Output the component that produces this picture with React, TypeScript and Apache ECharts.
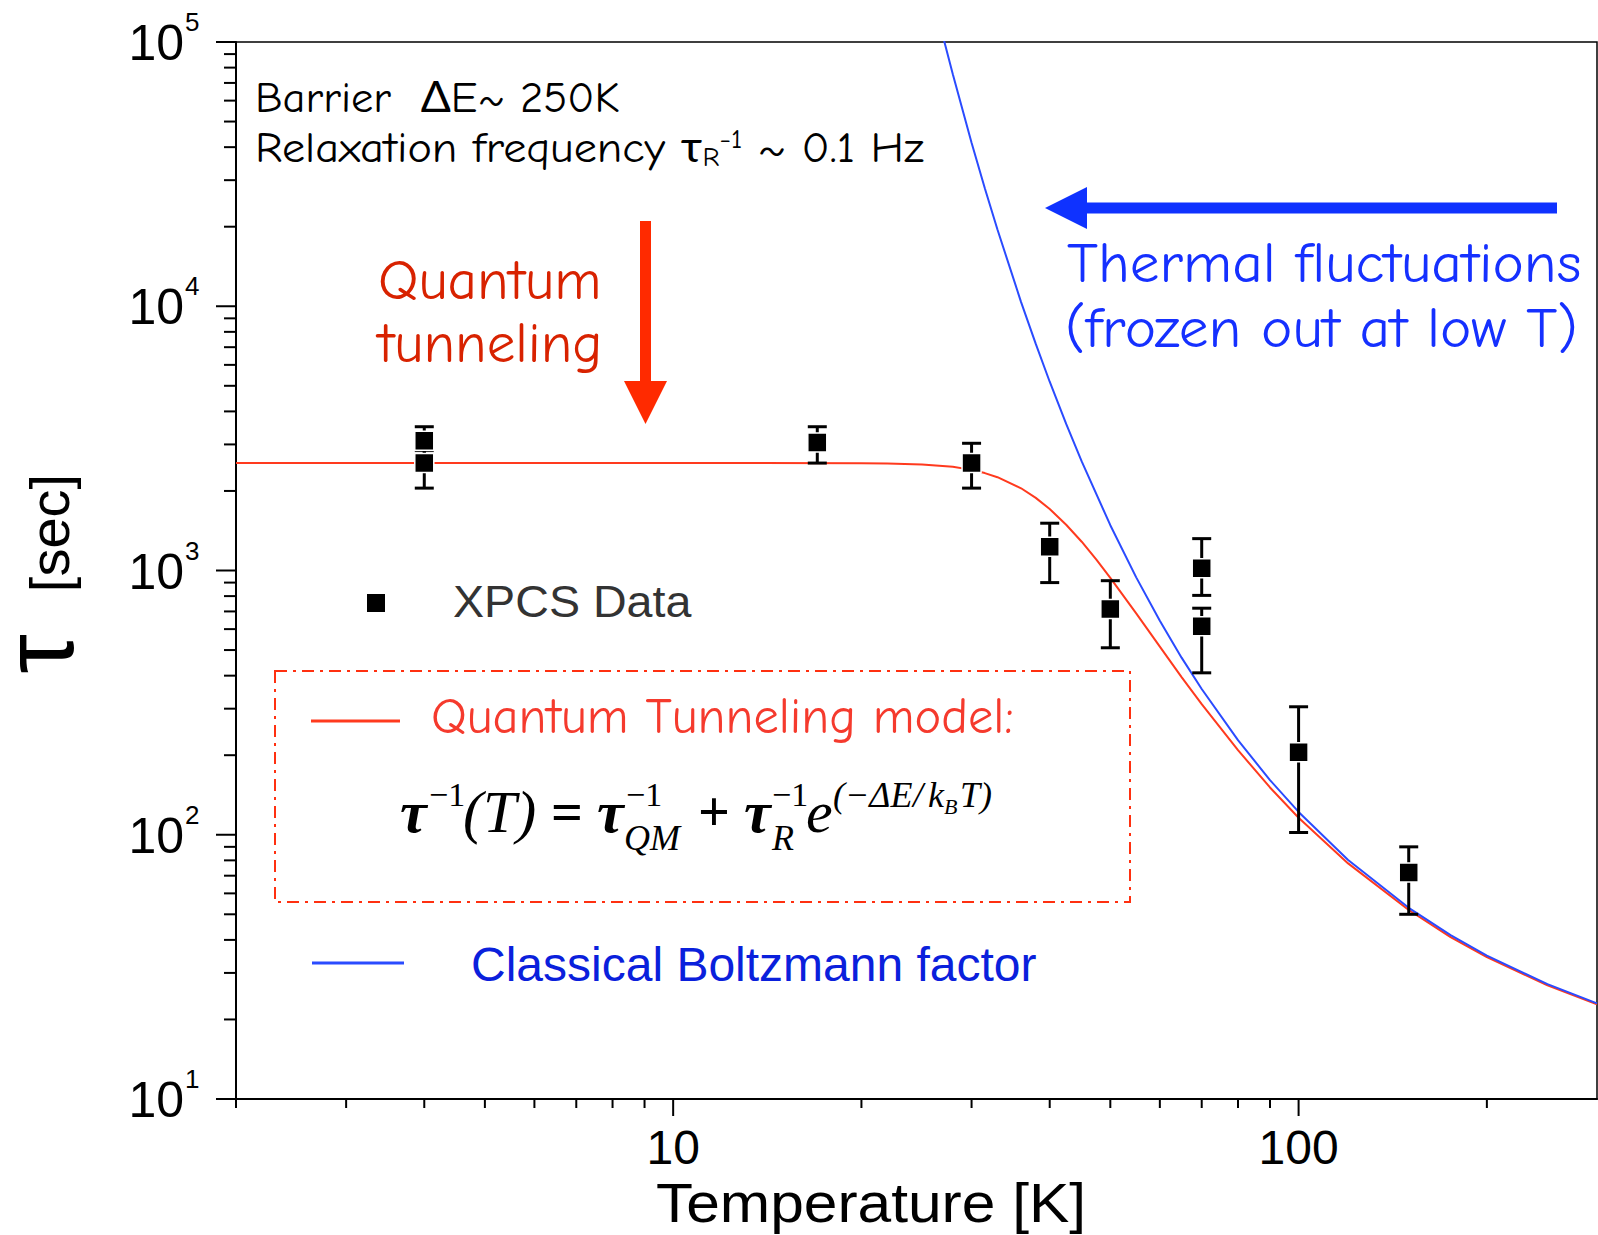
import React, { useEffect, useRef } from 'react';
import * as echarts from 'echarts';

// XPCS relaxation times (s) vs temperature (K), with error-bar limits
const temperatureK = [4, 4, 17, 30, 40, 50, 70, 70, 100, 150];
const tauSec = [3100, 2550, 3050, 2550, 1230, 715, 1020, 615, 205, 72];
const tauLow = [2750, 2050, 2550, 2050, 900, 510, 805, 410, 102, 50];
const tauHigh = [3500, 2850, 3500, 3030, 1510, 915, 1320, 720, 305, 90];

// Quantum tunneling model curve
const tunnelingT = [2, 10, 20, 22, 25, 28, 30, 31.5, 33, 36, 38, 40, 42.5, 45, 47.5, 50, 55, 60, 65, 70, 80, 90, 100, 120, 150, 175, 200, 250, 300];
const tunnelingTau = [2550, 2550, 2548, 2542, 2521, 2468, 2403, 2337, 2255, 2047, 1883, 1709, 1490, 1285, 1099, 938, 688, 515, 395, 312, 209, 151, 116, 77.9, 51.9, 41.0, 34.4, 26.9, 22.8];

// Classical Boltzmann factor curve
const boltzmannT = [27, 28, 30, 31.5, 33, 36, 38, 40, 42.5, 45, 50, 55, 60, 65, 70, 80, 90, 100, 120, 150, 175, 200, 250, 300];
const boltzmannTau = [105090, 75480, 41600, 27970, 19510, 10370, 7200, 5180, 3588, 2587, 1484, 942, 645, 468, 356, 228, 161, 122, 80.3, 52.9, 41.7, 34.9, 27.2, 23.0];

// Axes
const X_MIN = 2;
const X_MAX = 300;
const Y_MIN = 10;
const Y_MAX = 100000;
const xTickLabels = ['10', '100'];
const xMajorTicks = [10, 100];
const xMinorTicks = [2, 3, 4, 5, 6, 7, 8, 9, 20, 30, 40, 50, 60, 70, 80, 90, 200];
const yDecades = [10, 100, 1000, 10000, 100000];
const yExponents = ['1', '2', '3', '4', '5'];
const yMinorMultipliers = [2, 3, 4, 5, 6, 7, 8, 9];

const COMIC = '"Comic Sans MS", "Comic Neue", Lato, sans-serif';
const SANS = '"Liberation Sans", Arial, sans-serif';
const SERIF = '"Liberation Serif", "Times New Roman", serif';

type TextOpts = {
  size: number;
  family?: string;
  color?: string;
  align?: string;
  vAlign?: string;
  style?: string;
  weight?: string;
  scaleX?: number;
  rotation?: number;
};

function label(text: string, x: number, y: number, o: TextOpts) {
  const align = o.align || 'left';
  const vAlign = o.vAlign || 'middle';
  return {
    type: 'text',
    x,
    y,
    z: 20,
    scaleX: o.scaleX || 1,
    rotation: o.rotation || 0,
    style: {
      text,
      fontSize: o.size,
      fontFamily: o.family || COMIC,
      fontStyle: o.style || 'normal',
      fontWeight: o.weight || 'normal',
      fill: o.color || '#000',
      align,
      verticalAlign: vAlign,
      textAlign: align,
      textVerticalAlign: vAlign,
    },
  };
}

function buildOption() {
  const tickData: number[][] = [
    ...xMinorTicks.map((v) => [v, Y_MIN, 0, 9]),
    ...xMajorTicks.map((v) => [v, Y_MIN, 0, 17]),
    ...yDecades.slice(0, -1).flatMap((d) => yMinorMultipliers.map((m) => [X_MIN, d * m, 1, 12])),
    ...yDecades.map((v) => [X_MIN, v, 1, 20]),
  ];

  const points = temperatureK.map((t, i) => [t, tauSec[i]]);
  const bars = temperatureK.map((t, i) => [t, tauLow[i], tauHigh[i]]);

  const formulaY = 812;
  const supY = 794;
  const subY = 838;

  const graphic: any[] = [
    // header text
    label('Barrier\u00a0 ΔE~ 250K', 255, 98, { size: 42, scaleX: 1.06 }),
    {
      type: 'text',
      x: 255,
      y: 148,
      z: 20,
      scaleX: 1.1,
      style: {
        text: '{m|Relaxation frequency τ}{sb|R}{sp|-1}{m| ~ 0.1 Hz}',
        fontFamily: COMIC,
        fill: '#000',
        align: 'left',
        verticalAlign: 'middle',
        textAlign: 'left',
        textVerticalAlign: 'middle',
        rich: {
          m: { fontSize: 42, lineHeight: 44, fontFamily: COMIC, fill: '#000' },
          sb: { fontSize: 26, lineHeight: 24, verticalAlign: 'bottom', fontFamily: COMIC, fill: '#000' },
          sp: { fontSize: 26, lineHeight: 24, verticalAlign: 'top', fontFamily: COMIC, fill: '#000' },
        },
      },
    },
    // quantum tunneling annotation
    label('Quantum', 378, 281, { size: 56, color: '#d82200', scaleX: 1.02 }),
    label('tunneling', 378, 344, { size: 56, color: '#d82200', scaleX: 1.02 }),
    { type: 'rect', z: 20, shape: { x: 640, y: 221, width: 11, height: 162 }, style: { fill: '#ff2a00' } },
    { type: 'polygon', z: 20, shape: { points: [[624, 381], [667, 381], [645.5, 424]] }, style: { fill: '#ff2a00' } },
    // thermal fluctuations annotation
    { type: 'rect', z: 20, shape: { x: 1085, y: 202.5, width: 472, height: 11 }, style: { fill: '#0f32ff' } },
    { type: 'polygon', z: 20, shape: { points: [[1045, 208], [1087, 187], [1087, 229]] }, style: { fill: '#0f32ff' } },
    label('Thermal fluctuations', 1067, 264, { size: 56, color: '#1530ff', scaleX: 1.06 }),
    label('(frozen out at low T)', 1065, 329, { size: 56, color: '#1530ff', scaleX: 1.06 }),
    // data legend
    { type: 'rect', z: 20, shape: { x: 367, y: 594, width: 18, height: 18 }, style: { fill: '#000' } },
    label('XPCS Data', 453, 602, { size: 44, family: SANS, color: '#333', scaleX: 1.06 }),
    // model legend box
    {
      type: 'rect',
      z: 20,
      shape: { x: 275, y: 671, width: 855, height: 231 },
      style: { fill: 'none', stroke: '#ff3010', lineWidth: 2, lineDash: [12, 6, 3, 6] },
    },
    { type: 'line', z: 20, shape: { x1: 311, y1: 721, x2: 400, y2: 721 }, style: { stroke: '#ff3a1e', lineWidth: 3 } },
    label('Quantum Tunneling model:', 431, 717, { size: 50, color: '#f53a2d', scaleX: 1.01 }),
    // formula
    label('τ', 400, formulaY, { size: 60, family: SERIF, style: 'italic', weight: 'bold' }),
    label('−1', 429, supY, { size: 34, family: SERIF }),
    label('(T)', 463, formulaY, { size: 60, family: SERIF, style: 'italic' }),
    label('=', 551, formulaY, { size: 56, family: SERIF, weight: 'bold' }),
    label('τ', 597, formulaY, { size: 60, family: SERIF, style: 'italic', weight: 'bold' }),
    label('−1', 626, supY, { size: 34, family: SERIF }),
    label('QM', 624, subY, { size: 36, family: SERIF, style: 'italic' }),
    label('+', 698, formulaY, { size: 56, family: SERIF, weight: 'bold' }),
    label('τ', 744, formulaY, { size: 60, family: SERIF, style: 'italic', weight: 'bold' }),
    label('−1', 772, supY, { size: 34, family: SERIF }),
    label('R', 772, subY, { size: 36, family: SERIF, style: 'italic' }),
    label('e', 806, formulaY, { size: 60, family: SERIF, style: 'italic' }),
    label('(−ΔE', 833, 795, { size: 36, family: SERIF, style: 'italic' }),
    label('/', 913, 795, { size: 36, family: SERIF, style: 'italic' }),
    label('k', 928, 795, { size: 36, family: SERIF, style: 'italic' }),
    label('B', 944, 806, { size: 22, family: SERIF, style: 'italic' }),
    label('T)', 960, 795, { size: 36, family: SERIF, style: 'italic' }),
    // classical legend
    { type: 'line', z: 20, shape: { x1: 312, y1: 963, x2: 404, y2: 963 }, style: { stroke: '#2a4bff', lineWidth: 3 } },
    label('Classical Boltzmann factor', 471, 964, { size: 48, family: SANS, color: '#0a20dc' }),
    // axis titles
    label('Temperature [K]', 871, 1202, { size: 56, family: SANS, align: 'center', scaleX: 1.08 }),
    label('[sec]', 49, 533, { size: 56, family: SANS, align: 'center', rotation: Math.PI / 2 }),
    label('τ', 38, 654, { size: 100, family: SANS, align: 'center', rotation: Math.PI / 2 }),
  ];

  return {
    animation: false,
    backgroundColor: '#fff',
    grid: {
      left: 236,
      top: 42,
      right: 1,
      bottom: 136,
      show: true,
      borderColor: '#000',
      borderWidth: 1.5,
      backgroundColor: 'transparent',
      containLabel: false,
      outerBoundsMode: 'none',
    },
    xAxis: {
      type: 'log',
      logBase: 10,
      min: X_MIN,
      max: X_MAX,
      axisLine: { show: true, lineStyle: { color: '#000', width: 2 } },
      axisTick: { show: false },
      minorTick: { show: false },
      splitLine: { show: false },
      axisLabel: {
        margin: 24,
        fontSize: 48,
        fontFamily: SANS,
        color: '#000',
        formatter: (v: number) => xTickLabels.find((l) => Math.abs(Number(l) - v) < 1e-6 * v) || '',
      },
    },
    yAxis: {
      type: 'log',
      logBase: 10,
      min: Y_MIN,
      max: Y_MAX,
      axisLine: { show: true, lineStyle: { color: '#000', width: 2 } },
      axisTick: { show: false },
      minorTick: { show: false },
      splitLine: { show: false },
      axisLabel: { show: false },
    },
    series: [
      {
        name: 'ticks',
        type: 'custom',
        silent: true,
        clip: false,
        z: 5,
        data: tickData,
        renderItem: (params: any, api: any) => {
          const p = api.coord([api.value(0), api.value(1)]);
          const len = api.value(3);
          const shape =
            api.value(2) === 0
              ? { x1: p[0], y1: p[1], x2: p[0], y2: p[1] + len }
              : { x1: p[0] - len, y1: p[1], x2: p[0], y2: p[1] };
          return { type: 'line', shape, style: { stroke: '#000', lineWidth: 2 } };
        },
      },
      {
        name: 'decade labels',
        type: 'custom',
        silent: true,
        clip: false,
        z: 5,
        data: yDecades.map((v) => [X_MIN, v]),
        renderItem: (params: any, api: any) => {
          const p = api.coord([api.value(0), api.value(1)]);
          const exp = yExponents[params.dataIndex];
          return {
            type: 'group',
            children: [
              {
                type: 'text',
                x: p[0] - 52,
                y: p[1] + 1,
                style: {
                  text: '10', fontSize: 50, fontFamily: SANS, fill: '#000',
                  align: 'right', verticalAlign: 'middle', textAlign: 'right', textVerticalAlign: 'middle',
                },
              },
              {
                type: 'text',
                x: p[0] - 51,
                y: p[1] - 20,
                style: {
                  text: exp, fontSize: 26, fontFamily: SANS, fill: '#000',
                  align: 'left', verticalAlign: 'middle', textAlign: 'left', textVerticalAlign: 'middle',
                },
              },
            ],
          };
        },
      },
      {
        name: 'Quantum Tunneling model',
        type: 'line',
        data: tunnelingT.map((t, i) => [t, tunnelingTau[i]]),
        showSymbol: false,
        smooth: false,
        clip: true,
        z: 2,
        lineStyle: { color: '#ff3a1e', width: 2 },
      },
      {
        name: 'Classical Boltzmann factor',
        type: 'line',
        data: boltzmannT.map((t, i) => [t, boltzmannTau[i]]),
        showSymbol: false,
        smooth: false,
        clip: true,
        z: 2,
        lineStyle: { color: '#2a4bff', width: 2 },
      },
      {
        name: 'error bars',
        type: 'custom',
        z: 3,
        data: bars,
        renderItem: (params: any, api: any) => {
          const lo = api.coord([api.value(0), api.value(1)]);
          const hi = api.coord([api.value(0), api.value(2)]);
          const w = 9.5;
          const st = { stroke: '#000', lineWidth: 3 };
          return {
            type: 'group',
            children: [
              { type: 'line', shape: { x1: lo[0], y1: lo[1], x2: hi[0], y2: hi[1] }, style: st },
              { type: 'line', shape: { x1: lo[0] - w, y1: lo[1], x2: lo[0] + w, y2: lo[1] }, style: st },
              { type: 'line', shape: { x1: hi[0] - w, y1: hi[1], x2: hi[0] + w, y2: hi[1] }, style: st },
            ],
          };
        },
      },
      {
        name: 'XPCS Data',
        type: 'scatter',
        z: 4,
        data: points,
        symbol: 'rect',
        symbolSize: 19,
        itemStyle: { color: '#000', opacity: 1, borderColor: '#fff', borderWidth: 1.5 },
      },
    ],
    graphic,
  };
}

export default function App() {
  const ref = useRef<HTMLDivElement>(null);
  useEffect(() => {
    if (!ref.current) return;
    const chart = echarts.init(ref.current, undefined, { renderer: 'svg' });
    chart.setOption(buildOption() as any);
    return () => chart.dispose();
  }, []);
  return (
    <div
      ref={ref}
      style={{ position: 'absolute', left: 0, top: 0, width: 1598, height: 1235, background: '#fff' }}
    />
  );
}
